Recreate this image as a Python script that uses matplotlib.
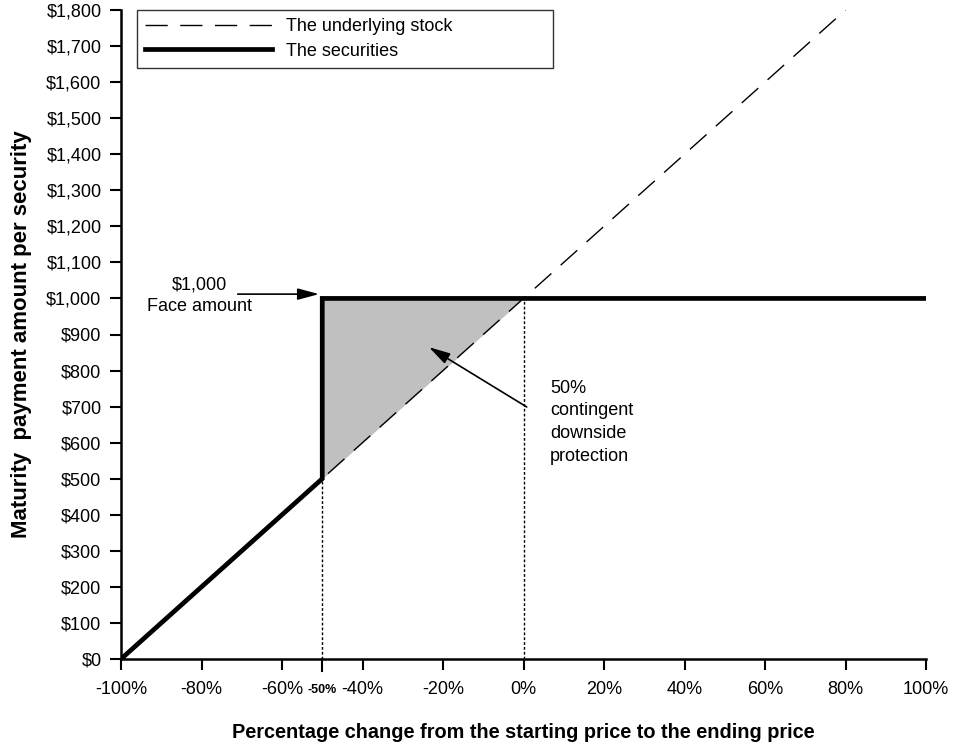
import matplotlib
matplotlib.use("Agg")
import matplotlib.pyplot as plt
import numpy as np

plt.rcParams['font.family'] = ['Liberation Sans', 'DejaVu Sans']

# Data
stock_pct = [-100, 80]
stock_value = [0, 1800]
sec_pct = [-100, -50, -50, 0, 100]
sec_value = [0, 500, 1000, 1000, 1000]
face_amount = 1000
buffer_level = -50
xticks = [-100, -80, -60, -40, -20, 0, 20, 40, 60, 80, 100]
xtick_labels = ['-100%', '-80%', '-60%', '-40%', '-20%', '0%', '20%', '40%', '60%', '80%', '100%']
yticks = list(range(0, 1801, 100))
ytick_labels = ['$0'] + ['${:,}'.format(v) for v in yticks[1:]]

fig = plt.figure(figsize=(9.61, 7.56), dpi=100)
ax = fig.add_axes([121/961, 97/756, (926-121)/961, (659-10)/756])

# shaded protection region
fx = np.array([buffer_level, 0])
ax.fill_between(fx, [face_amount * (1 + buffer_level / 100), face_amount],
                [face_amount, face_amount], color='#c0c0c0', lw=0, zorder=1)

# dotted guides
ax.plot([buffer_level, buffer_level], [0, face_amount * (1 + buffer_level / 100)],
        color='black', lw=1, ls=(0, (2, 1.5)), zorder=2)
ax.plot([0, 0], [0, face_amount], color='black', lw=1, ls=(0, (2, 1.5)), zorder=2)

stock_line, = ax.plot(stock_pct, stock_value, color='black', lw=1, ls=(0, (16, 9)),
                      zorder=3, label='The underlying stock')
sec_line, = ax.plot(sec_pct, sec_value, color='black', lw=3.4, zorder=4,
                    solid_joinstyle='miter', label='The securities')

ax.set_xlim(-100, 100)
ax.set_ylim(0, 1800)
ax.set_xticks(xticks)
ax.set_xticklabels(xtick_labels, fontsize=13)
ax.set_yticks(yticks)
ax.set_yticklabels(ytick_labels, fontsize=13)
ax.tick_params(axis='both', direction='out', length=8, width=1.5, color='black')
ax.tick_params(axis='x', pad=8)
ax.tick_params(axis='y', pad=6)
for s in ['top', 'right']:
    ax.spines[s].set_visible(False)
for s in ['left', 'bottom']:
    ax.spines[s].set_linewidth(1.8)

# extra -50% tick label
ax.text(buffer_level, -0.048, '-50%', transform=ax.get_xaxis_transform(),
        ha='center', va='center', fontsize=9, fontweight='bold')
ax.plot([buffer_level, buffer_level], [0, -0.018], transform=ax.get_xaxis_transform(),
        color='black', lw=1.5, clip_on=False)

ax.set_xlabel('Percentage change from the starting price to the ending price',
              fontsize=14.3, fontweight='bold', labelpad=18)
ax.set_ylabel('Maturity  payment amount per security', fontsize=16,
              fontweight='bold', labelpad=10)

leg_h = 55 / 649
leg = ax.legend(handles=[stock_line, sec_line], loc='upper left',
                bbox_to_anchor=(16/805, 1.0 - leg_h, (553-137)/805, leg_h), mode='expand',
                fontsize=13, frameon=True,
                fancybox=False, edgecolor='black', handlelength=7.0,
                borderpad=0.45, labelspacing=0.42, handletextpad=0.8,
                borderaxespad=0.0)
leg.get_frame().set_linewidth(1.0)

# annotations
ax.annotate('', xy=(-50.8, 1012), xytext=(-71, 1012),
            arrowprops=dict(arrowstyle='-|>,head_length=1.3,head_width=0.35',
                            color='black', lw=1.2, shrinkA=0, shrinkB=0))
ax.text(-80.4, 1008, '$1,000\nFace amount', ha='center', va='center', fontsize=13,
        linespacing=1.3)

ax.annotate('', xy=(-23.5, 865), xytext=(0.8, 699),
            arrowprops=dict(arrowstyle='-|>,head_length=1.3,head_width=0.35',
                            color='black', lw=1.2, shrinkA=0, shrinkB=0))
ax.text(6.6, 775, '50%\ncontingent\ndownside\nprotection', ha='left', va='top',
        fontsize=13, linespacing=1.45)

fig.savefig('out.png', dpi=100)
